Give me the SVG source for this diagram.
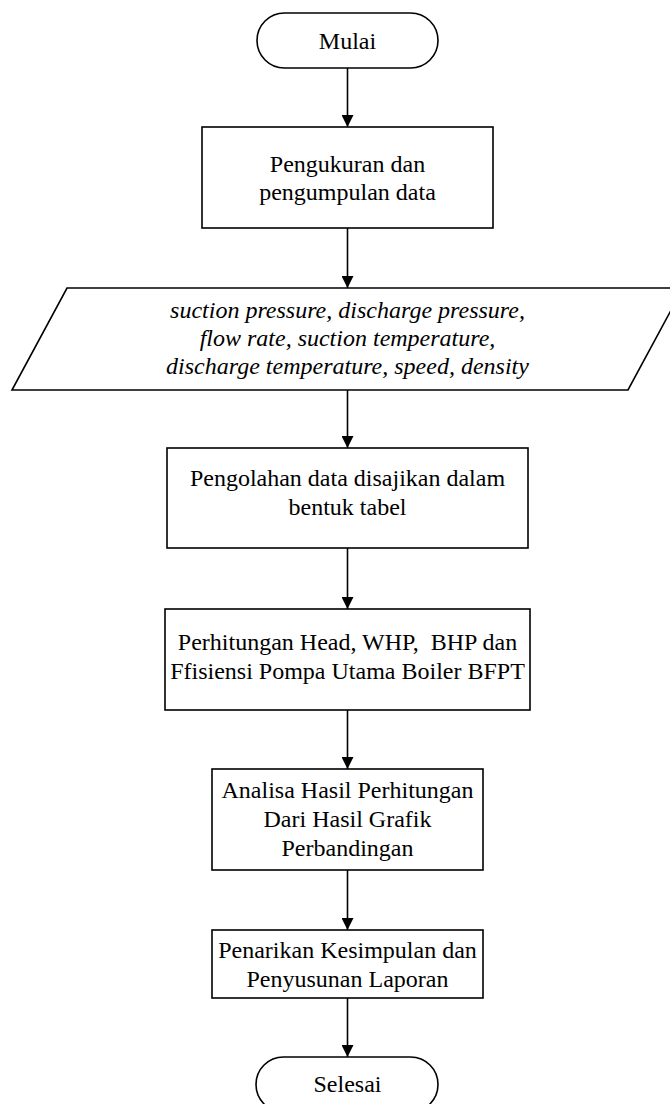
<svg xmlns="http://www.w3.org/2000/svg" width="670" height="1104" viewBox="0 0 670 1104">
<defs>
<marker id="arr" markerWidth="12" markerHeight="12" refX="12" refY="6" orient="auto" markerUnits="userSpaceOnUse">
<path d="M0,0 L12,6 L0,12 Z" fill="#000"/>
</marker>
<style>
.shape{fill:#fff;stroke:#000;stroke-width:1.6}
.t{font-family:"Liberation Serif","Times New Roman",serif;font-size:24px;fill:#000;text-anchor:middle}
.it{font-style:italic}
.conn{stroke:#000;stroke-width:1.6;fill:none;marker-end:url(#arr)}
</style>
</defs>
<rect width="670" height="1104" fill="#fff"/>
<g id="connectors">
<line class="conn" x1="347.5" y1="68" x2="347.5" y2="127"/>
<line class="conn" x1="347.5" y1="228" x2="347.5" y2="288"/>
<line class="conn" x1="347.5" y1="390" x2="347.5" y2="448"/>
<line class="conn" x1="347.5" y1="548" x2="347.5" y2="609"/>
<line class="conn" x1="347.5" y1="710" x2="347.5" y2="769"/>
<line class="conn" x1="347.5" y1="870" x2="347.5" y2="930"/>
<line class="conn" x1="347.5" y1="998" x2="347.5" y2="1057"/>
</g>
<g id="mulai">
<rect class="shape" x="257" y="13" width="181" height="55" rx="27.5" ry="27.5"/>
<text class="t" x="347.5" y="49">Mulai</text>
</g>
<g id="pengukuran">
<rect class="shape" x="202" y="127" width="291" height="101"/>
<text class="t" x="347.5" y="172">Pengukuran dan</text>
<text class="t" x="347.5" y="200">pengumpulan data</text>
</g>
<g id="data-input">
<polygon class="shape" points="67,288 683,288 628,390 12,390"/>
<text class="t it" x="347.5" y="318">suction pressure, discharge pressure,</text>
<text class="t it" x="347.5" y="346">flow rate, suction temperature,</text>
<text class="t it" x="347.5" y="374">discharge temperature, speed, density</text>
</g>
<g id="pengolahan">
<rect class="shape" x="167" y="448" width="361" height="100"/>
<text class="t" x="347.5" y="486">Pengolahan data disajikan dalam</text>
<text class="t" x="347.5" y="515">bentuk tabel</text>
</g>
<g id="perhitungan">
<rect class="shape" x="165" y="609" width="365" height="101"/>
<text class="t" x="347.5" y="650" xml:space="preserve">Perhitungan Head, WHP,  BHP dan</text>
<text class="t" x="347.5" y="679">Ffisiensi Pompa Utama Boiler BFPT</text>
</g>
<g id="analisa">
<rect class="shape" x="212" y="769" width="271" height="101"/>
<text class="t" x="347.5" y="798">Analisa Hasil Perhitungan</text>
<text class="t" x="347.5" y="827">Dari Hasil Grafik</text>
<text class="t" x="347.5" y="856">Perbandingan</text>
</g>
<g id="penarikan">
<rect class="shape" x="212" y="930" width="271" height="68"/>
<text class="t" x="347.5" y="958">Penarikan Kesimpulan dan</text>
<text class="t" x="347.5" y="987">Penyusunan Laporan</text>
</g>
<g id="selesai">
<rect class="shape" x="256" y="1057" width="182" height="55" rx="27.5" ry="27.5"/>
<text class="t" x="347.5" y="1092">Selesai</text>
</g>
</svg>
